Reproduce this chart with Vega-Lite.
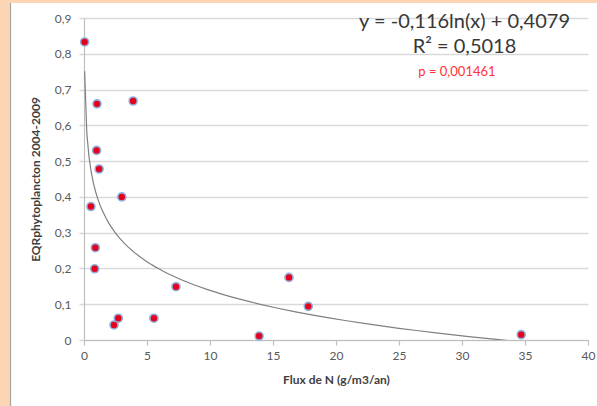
{
  "$schema": "https://vega.github.io/schema/vega-lite/v6.json",
  "width": 504,
  "height": 322,
  "autosize": "none",
  "padding": {"left": 84, "top": 18, "right": 9, "bottom": 66},
  "background": "white",
  "config": {
    "view": {"stroke": null},
    "font": "Lato",
    "axis": {
      "labelFont": "Lato",
      "labelFontSize": 12,
      "labelColor": "#595959",
      "titleFont": "Lato",
      "titleFontSize": 12,
      "titleFontWeight": "bold",
      "titleColor": "#404040",
      "domainColor": "#bfbfbf",
      "domainWidth": 1.2,
      "tickColor": "#bfbfbf",
      "tickWidth": 1.2,
      "gridColor": "#d9d9d9",
      "gridWidth": 1.6
    },
    "axisY": {"tickCount": 10, "labelOverlap": false}
  },
  "data": {
    "values": [
      {"flux": 0.05, "eqr": 0.833},
      {"flux": 1.03, "eqr": 0.66},
      {"flux": 3.9, "eqr": 0.668},
      {"flux": 1.0, "eqr": 0.53},
      {"flux": 1.2, "eqr": 0.478},
      {"flux": 3.0, "eqr": 0.4},
      {"flux": 0.55, "eqr": 0.373},
      {"flux": 0.9, "eqr": 0.258},
      {"flux": 0.85, "eqr": 0.199},
      {"flux": 2.38, "eqr": 0.042},
      {"flux": 2.72, "eqr": 0.061},
      {"flux": 5.55, "eqr": 0.061},
      {"flux": 7.3, "eqr": 0.149},
      {"flux": 13.9, "eqr": 0.011},
      {"flux": 16.27, "eqr": 0.175},
      {"flux": 17.8, "eqr": 0.094},
      {"flux": 34.7, "eqr": 0.015}
    ]
  },
  "layer": [
    {
      "transform": [
        {"regression": "eqr", "on": "flux", "method": "log", "extent": [0.05, 34.7]}
      ],
      "mark": {"type": "line", "color": "#808080", "strokeWidth": 1.2, "clip": true},
      "encoding": {
        "x": {
          "field": "flux", "type": "quantitative",
          "scale": {"domain": [0, 40], "nice": false},
          "title": "Flux de N (g/m3/an)",
          "axis": {"values": [0, 5, 10, 15, 20, 25, 30, 35, 40], "grid": false, "tickSize": 5, "labelPadding": 5, "titlePadding": 13, "labelFlush": false}
        },
        "y": {
          "field": "eqr", "type": "quantitative",
          "scale": {"domain": [0, 0.9], "nice": false},
          "title": "EQRphytoplancton 2004-2009",
          "axis": {"values": [0, 0.1, 0.2, 0.3, 0.4, 0.5, 0.6, 0.7, 0.8, 0.9], "tickCount": 10, "grid": true, "labelOverlap": false, "tickSize": 5, "tickColor": "#d9d9d9", "tickWidth": 1.6, "labelPadding": 8, "titlePadding": 12, "labelExpr": "replace(format(datum.value, '.1~f'), '.', ',')"}
        }
      }
    },
    {
      "mark": {"type": "circle", "size": 64, "fill": "#e6001e", "opacity": 1, "stroke": "#8eaedb", "strokeWidth": 1.6},
      "encoding": {
        "x": {
          "field": "flux", "type": "quantitative",
          "scale": {"domain": [0, 40], "nice": false},
          "title": "Flux de N (g/m3/an)",
          "axis": {"values": [0, 5, 10, 15, 20, 25, 30, 35, 40], "grid": false, "tickSize": 5, "labelPadding": 5, "titlePadding": 13, "labelFlush": false}
        },
        "y": {
          "field": "eqr", "type": "quantitative",
          "scale": {"domain": [0, 0.9], "nice": false},
          "title": "EQRphytoplancton 2004-2009",
          "axis": {"values": [0, 0.1, 0.2, 0.3, 0.4, 0.5, 0.6, 0.7, 0.8, 0.9], "tickCount": 10, "grid": true, "labelOverlap": false, "tickSize": 5, "tickColor": "#d9d9d9", "tickWidth": 1.6, "labelPadding": 8, "titlePadding": 12, "labelExpr": "replace(format(datum.value, '.1~f'), '.', ',')"}
        }
      }
    },
    {
      "data": {"values": [{}]},
      "mark": {"type": "rect", "color": "#fcd5b4"},
      "encoding": {
        "x": {"datum": -7.1, "type": "quantitative", "scale": {"domain": [0, 40], "nice": false}, "title": "Flux de N (g/m3/an)"},
        "x2": {"datum": -5.873},
        "y": {"datum": 0.965, "type": "quantitative", "scale": {"domain": [0, 0.9], "nice": false}, "title": "EQRphytoplancton 2004-2009"},
        "y2": {"datum": -0.2}
      }
    },
    {
      "data": {"values": [{}]},
      "mark": {"type": "rect", "color": "#fcd5b4"},
      "encoding": {
        "x": {"datum": -5.873, "type": "quantitative", "scale": {"domain": [0, 40], "nice": false}, "title": "Flux de N (g/m3/an)"},
        "x2": {"datum": 41.2},
        "y": {"datum": 0.965, "type": "quantitative", "scale": {"domain": [0, 0.9], "nice": false}, "title": "EQRphytoplancton 2004-2009"},
        "y2": {"datum": 0.9419}
      }
    },
    {
      "data": {"values": [{}]},
      "mark": {"type": "rule", "color": "#a6a6a6", "strokeWidth": 1.2},
      "encoding": {
        "x": {"datum": -5.83, "type": "quantitative", "scale": {"domain": [0, 40], "nice": false}, "title": "Flux de N (g/m3/an)"},
        "y": {"datum": 0.9419, "type": "quantitative", "scale": {"domain": [0, 0.9], "nice": false}, "title": "EQRphytoplancton 2004-2009"},
        "y2": {"datum": -0.2}
      }
    },
    {
      "data": {"values": [{}]},
      "mark": {"type": "text", "fontSize": 20, "color": "#383838", "align": "center", "baseline": "middle"},
      "encoding": {
        "x": {"datum": 30.2, "type": "quantitative", "scale": {"domain": [0, 40], "nice": false}, "title": "Flux de N (g/m3/an)"},
        "y": {"datum": 0.89, "type": "quantitative", "scale": {"domain": [0, 0.9], "nice": false}, "title": "EQRphytoplancton 2004-2009"},
        "text": {"value": "y = -0,116ln(x) + 0,4079"}
      }
    },
    {
      "data": {"values": [{}]},
      "mark": {"type": "text", "fontSize": 20, "color": "#383838", "align": "center", "baseline": "middle"},
      "encoding": {
        "x": {"datum": 30.2, "type": "quantitative", "scale": {"domain": [0, 40], "nice": false}, "title": "Flux de N (g/m3/an)"},
        "y": {"datum": 0.819, "type": "quantitative", "scale": {"domain": [0, 0.9], "nice": false}, "title": "EQRphytoplancton 2004-2009"},
        "text": {"value": "R² = 0,5018"}
      }
    },
    {
      "data": {"values": [{}]},
      "mark": {"type": "text", "fontSize": 13, "color": "#ff3333", "align": "center", "baseline": "middle"},
      "encoding": {
        "x": {"datum": 29.6, "type": "quantitative", "scale": {"domain": [0, 40], "nice": false}, "title": "Flux de N (g/m3/an)"},
        "y": {"datum": 0.749, "type": "quantitative", "scale": {"domain": [0, 0.9], "nice": false}, "title": "EQRphytoplancton 2004-2009"},
        "text": {"value": "p = 0,001461"}
      }
    }
  ]
}
